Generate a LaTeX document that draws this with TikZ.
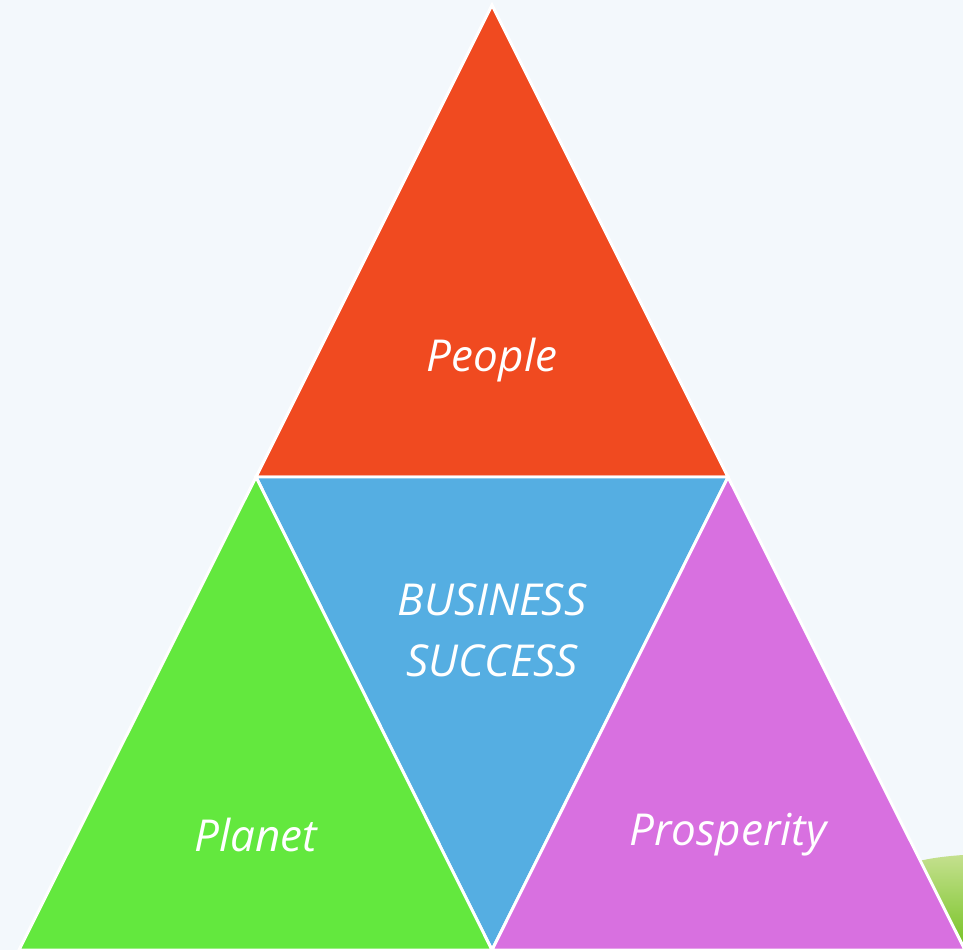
\documentclass[tikz,border=0pt]{standalone}
\usepackage{fontspec}
\setmainfont{Open Sans}
\usetikzlibrary{positioning}
\definecolor{bgblue}{HTML}{F3F8FC}
\definecolor{peoplered}{HTML}{F04A20}
\definecolor{successblue}{HTML}{55AEE2}
\definecolor{planetgreen}{HTML}{63E83E}
\definecolor{prospink}{HTML}{D870E0}
\definecolor{grasslight}{HTML}{C4E08E}
\definecolor{grassdark}{HTML}{74C221}
\tikzset{
piece/.style={draw=white, line width=2.2pt, line join=miter},
label/.style={text=white, font=\itshape\fontsize{33}{46}\selectfont, align=center},
}

\begin{document}
\begin{tikzpicture}[x=0.75pt, y=-0.75pt]
    %background
    \fill[bgblue] (0,0) rectangle (963,950);
    \useasboundingbox (0,0) rectangle (963,950);

    %grass in the corner
    \shade[top color=grasslight, bottom color=grassdark]
        (915,862) .. controls (930,858) and (948,856) .. (963,855) -- (963,950) -- (915,950) -- cycle;

    %corners
    \coordinate (top) at (492,5);
    \coordinate (ml) at (256,477);
    \coordinate (mr) at (728,477);
    \coordinate (bl) at (19,950);
    \coordinate (bm) at (492,950);
    \coordinate (br) at (965,950);

    %triangles
    \fill[peoplered, piece] (top) -- (ml) -- (mr) -- cycle;
    \fill[successblue, piece] (ml) -- (mr) -- (bm) -- cycle;
    \fill[planetgreen, piece] (ml) -- (bl) -- (bm) -- cycle;
    \fill[prospink, piece] (mr) -- (bm) -- (br) -- cycle;

    %labels
    \node[label] (people) at (492,360) {People};
    \node[label] (success) at (492,630) {BUSINESS\\SUCCESS};
    \node[label] (planet) at (256,835) {Planet};
    \node[label] (prosperity) at (728,835) {Prosperity};

\end{tikzpicture}
\end{document}
